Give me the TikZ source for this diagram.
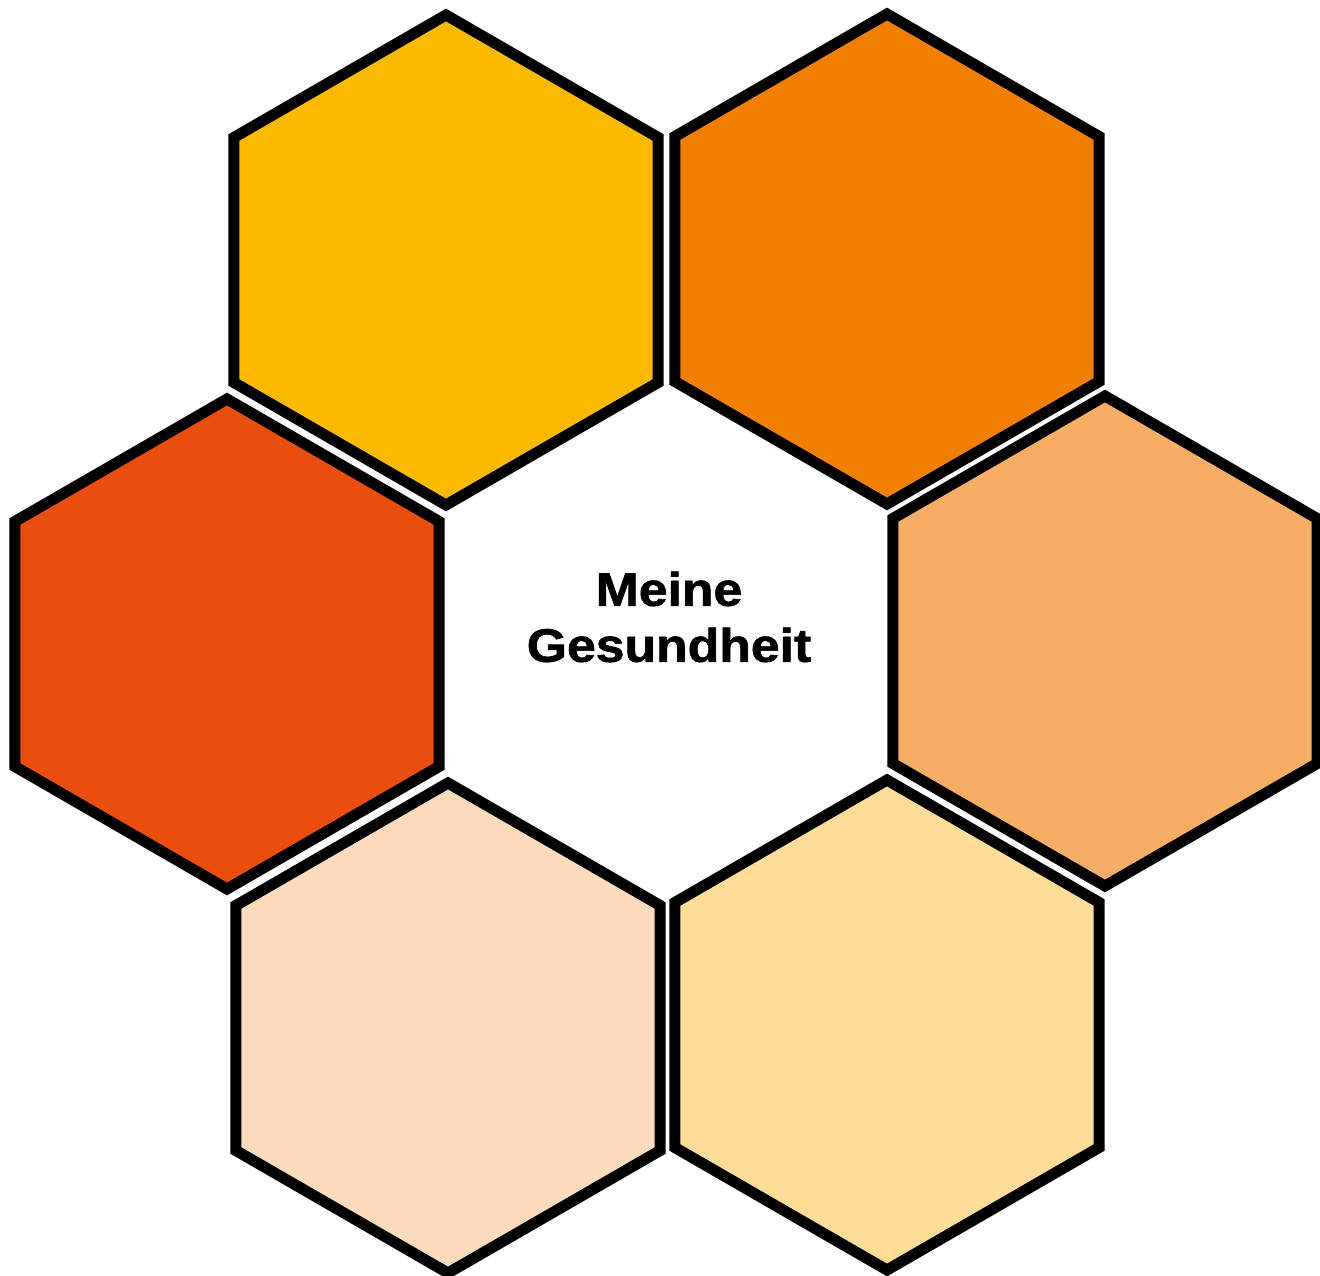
\documentclass[tikz,border=0pt]{standalone}
\usepackage{fontspec}
\setmainfont{Liberation Sans}
\newfontfamily\heavyfont[FakeBold=1.3]{Liberation Sans Bold}
\definecolor{hexA}{HTML}{FBBA00}
\definecolor{hexB}{HTML}{F07F00}
\definecolor{hexC}{HTML}{E94E0F}
\definecolor{hexD}{HTML}{F6AD66}
\definecolor{hexE}{HTML}{FDDBBC}
\definecolor{hexF}{HTML}{FFDC98}
\usetikzlibrary{calc}
\tikzset{hexcell/.style={draw=black,line width=11pt,line join=miter}}
\newcommand{\hexat}[3]{%
  \fill[#3] ($(#1,#2)+(90:245)$) -- ($(#1,#2)+(150:245)$) -- ($(#1,#2)+(210:245)$) -- ($(#1,#2)+(270:245)$) -- ($(#1,#2)+(330:245)$) -- ($(#1,#2)+(30:245)$) -- cycle;
  \draw[hexcell] ($(#1,#2)+(90:245)$) -- ($(#1,#2)+(150:245)$) -- ($(#1,#2)+(210:245)$) -- ($(#1,#2)+(270:245)$) -- ($(#1,#2)+(330:245)$) -- ($(#1,#2)+(30:245)$) -- cycle;}
\begin{document}
\begin{tikzpicture}[x=1pt,y=-1pt]
\useasboundingbox (0,0) rectangle (1320,1276);
\hexat{446}{260}{hexA}
\hexat{887}{259}{hexB}
\hexat{227}{644}{hexC}
\hexat{1105}{641}{hexD}
\hexat{448}{1028}{hexE}
\hexat{887}{1025}{hexF}
\node[align=center,font=\heavyfont\fontsize{47}{56}\selectfont] (title) at (669,617) {\scalebox{1.1}[1]{Meine}\\\scalebox{1.1}[1]{Gesundheit}};
\end{tikzpicture}
\end{document}
